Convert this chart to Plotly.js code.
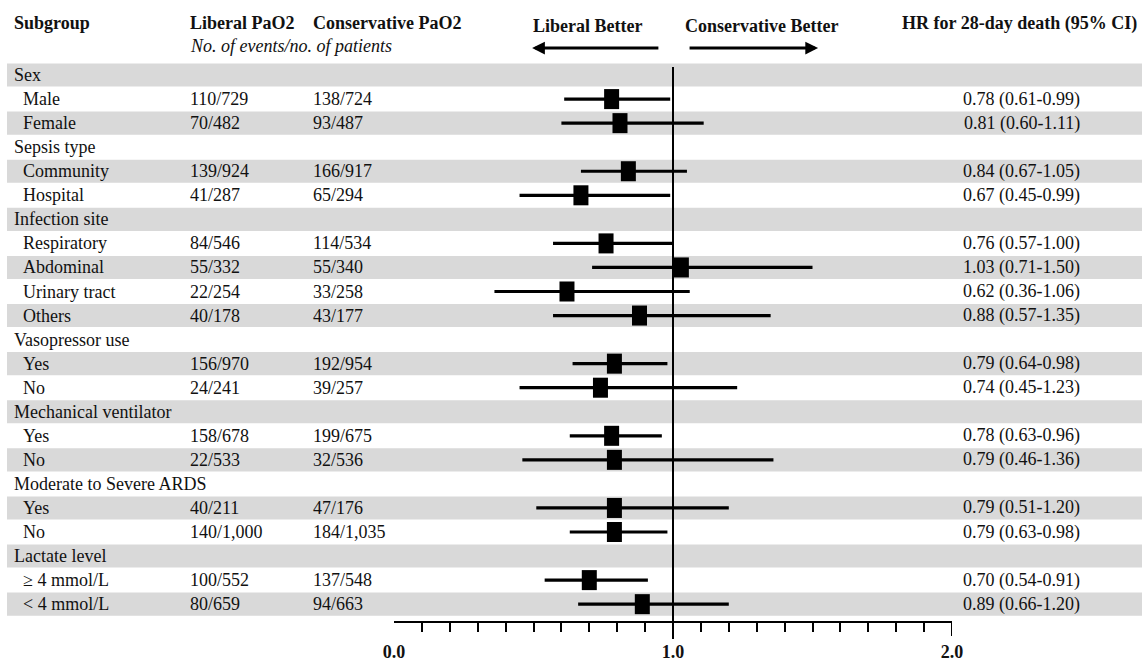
<!DOCTYPE html>
<html><head><meta charset="utf-8">
<script src="https://cdn.plot.ly/plotly-3.0.1.min.js"></script>
<style>html,body{margin:0;padding:0;background:#fff}#chart{width:1142px;height:661px}</style>
</head><body><div id="chart"></div>
<script>
// ---- data ----
const subgroups = ['Sex','Male','Female','Sepsis type','Community','Hospital','Infection site','Respiratory','Abdominal','Urinary tract','Others','Vasopressor use','Yes','No','Mechanical ventilator','Yes','No','Moderate to Severe ARDS','Yes','No','Lactate level','≥ 4 mmol/L','&lt; 4 mmol/L'];
const isGroup = [1,0,0,1,0,0,1,0,0,0,0,1,0,0,1,0,0,1,0,0,1,0,0];
const liberal = [null,'110/729','70/482',null,'139/924','41/287',null,'84/546','55/332','22/254','40/178',null,'156/970','24/241',null,'158/678','22/533',null,'40/211','140/1,000',null,'100/552','80/659'];
const conservative = [null,'138/724','93/487',null,'166/917','65/294',null,'114/534','55/340','33/258','43/177',null,'192/954','39/257',null,'199/675','32/536',null,'47/176','184/1,035',null,'137/548','94/663'];
const hr = [null,0.78,0.81,null,0.84,0.67,null,0.76,1.03,0.62,0.88,null,0.79,0.74,null,0.78,0.79,null,0.79,0.79,null,0.70,0.89];
const ciLow = [null,0.61,0.60,null,0.67,0.45,null,0.57,0.71,0.36,0.57,null,0.64,0.45,null,0.63,0.46,null,0.51,0.63,null,0.54,0.66];
const ciHigh = [null,0.99,1.11,null,1.05,0.99,null,1.00,1.50,1.06,1.35,null,0.98,1.23,null,0.96,1.36,null,1.20,0.98,null,0.91,1.20];
const axisTickVals = [0,1,2];
const axisTickText = ['0.0','1.0','2.0'];
const minorTickVals = [0.1,0.2,0.3,0.4,0.5,0.6,0.7,0.8,0.9,1.1,1.2,1.3,1.4,1.5,1.6,1.7,1.8,1.9];
const referenceHR = 1;

// ---- styling ----
const FONT = 'Liberation Serif, Times New Roman, serif';
const TXT = '#111';
const W = 1142, H = 661;
const px = v => v / W;
const py = v => 1 - v / H;

const idx = subgroups.map((_, i) => i);
const dataRows = idx.filter(i => hr[i] !== null);

const trace = {
  type: 'scatter', mode: 'markers',
  x: dataRows.map(i => hr[i]),
  y: dataRows.map(i => i),
  marker: {symbol: 'line-ns', size: 14.3, color: 'black', line: {width: 15, color: 'black'}},
  error_x: {
    type: 'data', symmetric: false,
    array: dataRows.map(i => ciHigh[i] - hr[i]),
    arrayminus: dataRows.map(i => hr[i] - ciLow[i]),
    thickness: 3.2, width: 0, color: 'black'
  },
  hoverinfo: 'skip', showlegend: false, cliponaxis: false
};

const shapes = [];
idx.forEach(i => {
  if (i % 2 === 0) shapes.push({type: 'rect', layer: 'below', xref: 'paper', yref: 'y',
    x0: px(7), x1: 1, y0: i - 0.48, y1: i + 0.48, fillcolor: '#d9d9d9', line: {width: 0}});
});
// reference line at HR = 1
shapes.push({type: 'line', layer: 'below', xref: 'x', yref: 'paper',
  x0: referenceHR, x1: referenceHR, y0: py(639), y1: py(67), line: {color: 'black', width: 2}});
// end tick of the axis (at its last tick value)
const axisEnd = axisTickVals[axisTickVals.length - 1];
shapes.push({type: 'line', layer: 'above', xref: 'x', yref: 'paper',
  x0: axisEnd, x1: axisEnd, y0: py(636), y1: py(621), line: {color: 'black', width: 2}});

const ann = [];
function t(text, x, y, anchor, opts) {
  ann.push(Object.assign({text, xref: 'paper', yref: 'y', x, y, xanchor: anchor, yanchor: 'middle',
    showarrow: false, font: {family: FONT, size: 18, color: TXT}}, opts || {}));
}
idx.forEach(i => {
  t(subgroups[i], px(isGroup[i] ? 12 : 21), i, 'left');
  if (liberal[i]) t(liberal[i], px(188), i, 'left');
  if (conservative[i]) t(conservative[i], px(311), i, 'left');
  if (hr[i] !== null) t(hr[i].toFixed(2) + ' (' + ciLow[i].toFixed(2) + '-' + ciHigh[i].toFixed(2) + ')', px(1082), i, 'right');
});
// headers
t('<b>Subgroup</b>', px(12), -2.15, 'left');
t('<b>Liberal PaO2</b>', px(188), -2.15, 'left');
t('<b>Conservative PaO2</b>', px(311), -2.15, 'left');
t('<i>No. of events/no. of patients</i>', px(188), -1.2, 'left');
t('<b>HR for 28-day death (95% CI)</b>', px(1139), -2.15, 'right');
t('<b>Liberal Better</b>', px(531), -2.05, 'left');
t('<b>Conservative Better</b>', px(683), -2.05, 'left');
// direction arrows
const arrowY = -1.12;
[[0.495, 0.953], [1.520, 1.054]].forEach(([head, tail]) => {
  ann.push({text: '', xref: 'x', yref: 'y', axref: 'x', ayref: 'y', x: head, y: arrowY, ax: tail, ay: arrowY,
    showarrow: true, arrowhead: 2, arrowsize: 0.85, arrowwidth: 3, arrowcolor: 'black', standoff: 0, startstandoff: 0});
});

const layout = {
  width: W, height: H,
  margin: {l: 0, r: 0, t: 0, b: 0, pad: 0},
  paper_bgcolor: 'white', plot_bgcolor: 'rgba(0,0,0,0)',
  showlegend: false, hovermode: false,
  xaxis: {
    domain: [px(394), px(952)], range: [0, 2],
    showgrid: false, zeroline: false,
    showline: true, linecolor: 'black', linewidth: 2,
    tickmode: 'array', tickvals: axisTickVals, ticktext: axisTickText.map(s => '<b>' + s + '</b>'),
    ticks: 'outside', ticklen: 0, tickwidth: 2, tickcolor: 'black', ticklabelstandoff: 13,
    tickfont: {family: FONT, size: 18, color: TXT},
    minor: {tickmode: 'array', tickvals: minorTickVals, ticks: 'outside', ticklen: 9, tickwidth: 2, tickcolor: 'black', showgrid: false}
  },
  yaxis: {domain: [40/H, 1], range: [22.70, -3.12], visible: false, showgrid: false, zeroline: false},
  shapes, annotations: ann
};

Plotly.newPlot('chart', [trace], layout, {staticPlot: true, displayModeBar: false});
</script>
</body></html>
